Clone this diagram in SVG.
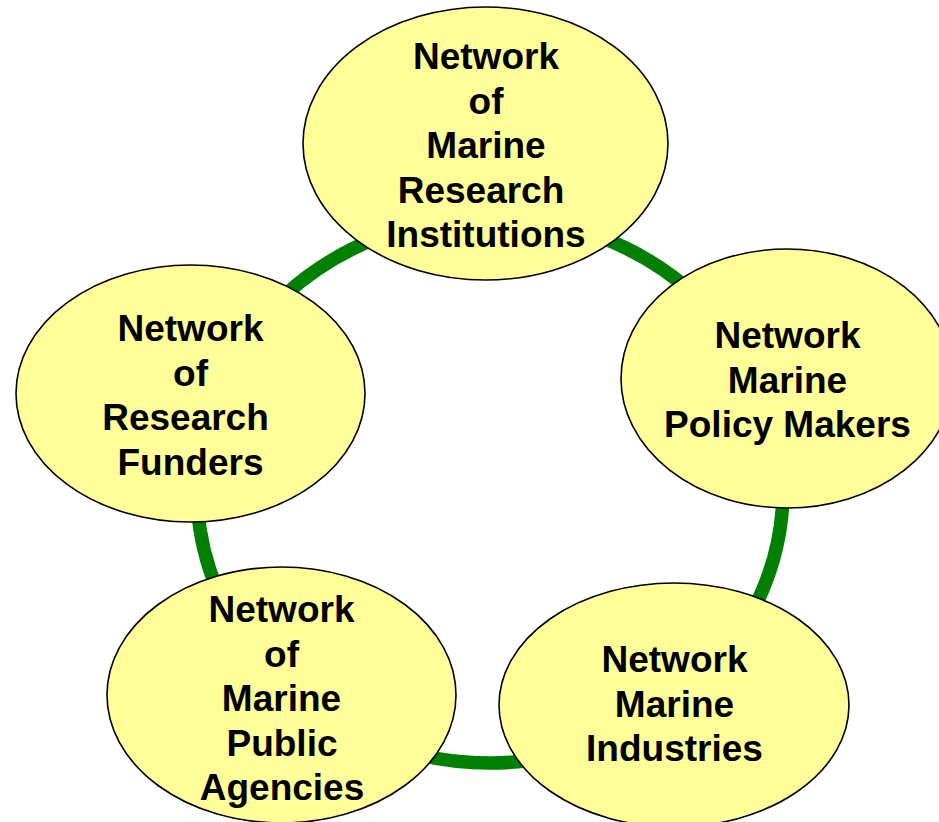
<svg xmlns="http://www.w3.org/2000/svg" width="939" height="822" viewBox="0 0 939 822">
<style>
.node ellipse{fill:#FFFF99;stroke:#000;stroke-width:1.6}
.node text{font-family:"Liberation Sans",Arial,sans-serif;font-weight:bold;font-size:37px;fill:#000;text-anchor:middle}
</style>
<rect width="939" height="822" fill="#fff"/>
<g id="connectors">
<ellipse cx="490" cy="490" rx="293" ry="273" fill="none" stroke="#008000" stroke-width="13.5"/>
</g>
<g id="research-institutions" class="node">
<ellipse cx="485.5" cy="143.5" rx="182.5" ry="136.5"/>
<text x="486" y="69">Network</text>
<text x="486" y="113.5">of</text>
<text x="486" y="158">Marine</text>
<text x="481" y="202.5">Research</text>
<text x="486" y="247">Institutions</text>
</g>
<g id="policy-makers" class="node">
<ellipse cx="787" cy="378.5" rx="166" ry="129.5"/>
<text x="787.5" y="348">Network</text>
<text x="787.5" y="392.5">Marine</text>
<text x="787.5" y="437">Policy Makers</text>
</g>
<g id="industries" class="node">
<ellipse cx="674" cy="705" rx="175" ry="122"/>
<text x="674.5" y="672">Network</text>
<text x="674.5" y="716.5">Marine</text>
<text x="674.5" y="761">Industries</text>
</g>
<g id="public-agencies" class="node">
<ellipse cx="281.5" cy="695" rx="174.5" ry="128"/>
<text x="281.5" y="622">Network</text>
<text x="281.5" y="666.5">of</text>
<text x="281.5" y="711">Marine</text>
<text x="282" y="755.5">Public</text>
<text x="282" y="800">Agencies</text>
</g>
<g id="research-funders" class="node">
<ellipse cx="190.5" cy="393.5" rx="174.5" ry="128.5"/>
<text x="190.5" y="341">Network</text>
<text x="190.5" y="385.5">of</text>
<text x="185.5" y="430">Research</text>
<text x="190.5" y="474.5">Funders</text>
</g>
</svg>
